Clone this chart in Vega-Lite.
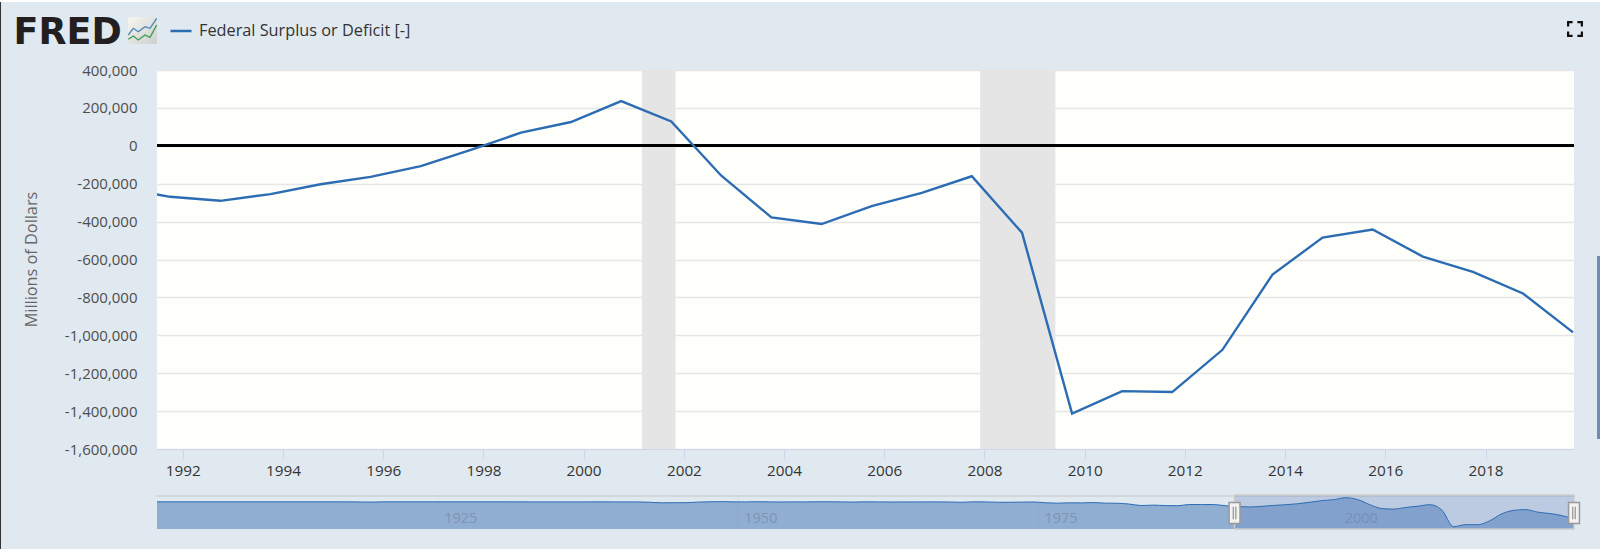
{"$schema":"https://vega.github.io/schema/vega-lite/v6.json","width":1417,"height":379,"autosize":{"type":"none"},"padding":{"left":157,"top":70,"right":26,"bottom":100},"background":"#e1e9f0","view":{"fill":"#fefefb","stroke":null},"config":{"font":"Open Sans"},"datasets":{"fyfsd":[{"date":"1901-10-01","value":63},{"date":"1902-10-01","value":77},{"date":"1903-10-01","value":45},{"date":"1904-10-01","value":-43},{"date":"1905-10-01","value":-23},{"date":"1906-10-01","value":25},{"date":"1907-10-01","value":87},{"date":"1908-10-01","value":-57},{"date":"1909-10-01","value":-89},{"date":"1910-10-01","value":-18},{"date":"1911-10-01","value":11},{"date":"1912-10-01","value":3},{"date":"1913-10-01","value":0},{"date":"1914-10-01","value":0},{"date":"1915-10-01","value":-63},{"date":"1916-10-01","value":48},{"date":"1917-10-01","value":-853},{"date":"1918-10-01","value":-9000},{"date":"1919-10-01","value":-13363},{"date":"1920-10-01","value":291},{"date":"1921-10-01","value":509},{"date":"1922-10-01","value":736},{"date":"1923-10-01","value":713},{"date":"1924-10-01","value":963},{"date":"1925-10-01","value":717},{"date":"1926-10-01","value":865},{"date":"1927-10-01","value":1155},{"date":"1928-10-01","value":939},{"date":"1929-10-01","value":734},{"date":"1930-10-01","value":738},{"date":"1931-10-01","value":-462},{"date":"1932-10-01","value":-2735},{"date":"1933-10-01","value":-2602},{"date":"1934-10-01","value":-3586},{"date":"1935-10-01","value":-2803},{"date":"1936-10-01","value":-4304},{"date":"1937-10-01","value":-2193},{"date":"1938-10-01","value":-89},{"date":"1939-10-01","value":-2846},{"date":"1940-10-01","value":-2920},{"date":"1941-10-01","value":-4941},{"date":"1942-10-01","value":-20503},{"date":"1943-10-01","value":-54554},{"date":"1944-10-01","value":-47557},{"date":"1945-10-01","value":-47553},{"date":"1946-10-01","value":-15936},{"date":"1947-10-01","value":4018},{"date":"1948-10-01","value":11796},{"date":"1949-10-01","value":580},{"date":"1950-10-01","value":-3119},{"date":"1951-10-01","value":6102},{"date":"1952-10-01","value":-1519},{"date":"1953-10-01","value":-6493},{"date":"1954-10-01","value":-1154},{"date":"1955-10-01","value":-2993},{"date":"1956-10-01","value":3947},{"date":"1957-10-01","value":3412},{"date":"1958-10-01","value":-2769},{"date":"1959-10-01","value":-12849},{"date":"1960-10-01","value":301},{"date":"1961-10-01","value":-3335},{"date":"1962-10-01","value":-7146},{"date":"1963-10-01","value":-4756},{"date":"1964-10-01","value":-5915},{"date":"1965-10-01","value":-1411},{"date":"1966-10-01","value":-3698},{"date":"1967-10-01","value":-8643},{"date":"1968-10-01","value":-25161},{"date":"1969-10-01","value":3242},{"date":"1970-10-01","value":-2842},{"date":"1971-10-01","value":-23033},{"date":"1972-10-01","value":-23373},{"date":"1973-10-01","value":-14908},{"date":"1974-10-01","value":-6135},{"date":"1975-10-01","value":-53242},{"date":"1976-10-01","value":-73732},{"date":"1977-10-01","value":-53659},{"date":"1978-10-01","value":-59185},{"date":"1979-10-01","value":-40726},{"date":"1980-10-01","value":-73830},{"date":"1981-10-01","value":-78968},{"date":"1982-10-01","value":-127977},{"date":"1983-10-01","value":-207802},{"date":"1984-10-01","value":-185367},{"date":"1985-10-01","value":-212308},{"date":"1986-10-01","value":-221227},{"date":"1987-10-01","value":-149730},{"date":"1988-10-01","value":-155178},{"date":"1989-10-01","value":-152639},{"date":"1990-10-01","value":-221036},{"date":"1991-10-01","value":-269238},{"date":"1992-10-01","value":-290321},{"date":"1993-10-01","value":-255051},{"date":"1994-10-01","value":-203186},{"date":"1995-10-01","value":-163952},{"date":"1996-10-01","value":-107431},{"date":"1997-10-01","value":-21884},{"date":"1998-10-01","value":69270},{"date":"1999-10-01","value":125610},{"date":"2000-10-01","value":236241},{"date":"2001-10-01","value":128236},{"date":"2002-10-01","value":-157758},{"date":"2003-10-01","value":-377585},{"date":"2004-10-01","value":-412727},{"date":"2005-10-01","value":-318346},{"date":"2006-10-01","value":-248181},{"date":"2007-10-01","value":-160701},{"date":"2008-10-01","value":-458553},{"date":"2009-10-01","value":-1412688},{"date":"2010-10-01","value":-1294373},{"date":"2011-10-01","value":-1299599},{"date":"2012-10-01","value":-1076573},{"date":"2013-10-01","value":-679544},{"date":"2014-10-01","value":-484602},{"date":"2015-10-01","value":-441960},{"date":"2016-10-01","value":-584651},{"date":"2017-10-01","value":-665446},{"date":"2018-10-01","value":-779137},{"date":"2019-10-01","value":-984388}]},"data":{"name":"fyfsd"},"resolve":{"scale":{"x":"independent","y":"independent","color":"independent"},"axis":{"x":"independent","y":"independent"}},"layer":[{"layer":[{"data":{"values":[{"start":"2001-03-01","end":"2001-11-01"},{"start":"2007-12-01","end":"2009-06-01"}]},"mark":{"type":"rect","fill":"#e5e5e5"},"encoding":{"x":{"field":"start","type":"temporal","scale":{"domain":["1991-06-27","2019-10-08"]},"axis":{"title":null,"format":"%Y","tickCount":{"interval":"year","step":2},"grid":false,"domainColor":"#ccd6eb","tickColor":"#ccd6eb","tickSize":10,"labelFontSize":15.3,"labelColor":"#333333","labelPadding":4,"labelFont":"Open Sans"}},"x2":{"field":"end"}}},{"mark":{"type":"rule","color":"#000000","strokeWidth":2.5},"encoding":{"y":{"datum":0,"type":"quantitative","scale":{"domain":[-1600000,400000],"nice":false},"axis":{"title":"Millions of Dollars","values":[-1600000,-1400000,-1200000,-1000000,-800000,-600000,-400000,-200000,0,200000,400000],"tickCount":11,"labelOverlap":false,"format":",.0f","labelExpr":"replace(datum.label,'−','-')","domain":false,"ticks":false,"grid":true,"gridColor":"#e6e6e6","gridWidth":1.5,"labelFontSize":15,"labelColor":"#4d4d4d","labelPadding":20,"labelFont":"Open Sans","titleFont":"Open Sans","titleFontSize":16.3,"titleFontWeight":"normal","titleColor":"#666666","titleX":-118,"titleY":189}}}},{"mark":{"type":"line","clip":true,"strokeWidth":2.4,"interpolate":"linear"},"encoding":{"x":{"field":"date","type":"temporal"},"y":{"field":"value","type":"quantitative"},"color":{"datum":"Federal Surplus or Deficit [-]","type":"nominal","scale":{"range":["#2b6cb3"]},"legend":{"title":null,"orient":"none","legendX":12,"legendY":-51,"symbolType":"stroke","symbolSize":441,"symbolStrokeWidth":2.5,"labelFontSize":16.3,"labelColor":"#333333","labelFont":"Open Sans","labelOffset":6,"labelLimit":400}}}}]},{"layer":[{"data":{"values":[{"start":"1901-10-01","end":"2019-10-08","low":276000,"high":390000}]},"mark":{"type":"rect","fill":"#d3d7d9"},"encoding":{"x":{"field":"start","type":"temporal","axis":null,"scale":{"domain":["1901-10-01","2019-10-08"]}},"x2":{"field":"end"},"y":{"field":"low","type":"quantitative","axis":null,"scale":{"domain":[-1543000,236241],"range":[459,427.7],"nice":false,"zero":false}},"y2":{"field":"high"}}},{"mark":{"type":"area","fill":"#1f5ca8","opacity":0.42,"interpolate":"monotone"},"encoding":{"x":{"field":"date","type":"temporal"},"y":{"field":"value","type":"quantitative","stack":null},"y2":{"datum":-1543000}}},{"data":{"values":[{"date":"1925-03-01"},{"date":"1950-03-01"},{"date":"1975-03-01"},{"date":"2000-03-01"}]},"mark":{"type":"rule","stroke":"#8a9cb5","strokeWidth":1,"opacity":0.12},"encoding":{"x":{"field":"date","type":"temporal"},"y":{"datum":-1543000},"y2":{"datum":390000}}},{"data":{"values":[{"date":"1925-03-01","label":"1925","level":-974000},{"date":"1950-03-01","label":"1950","level":-974000},{"date":"1975-03-01","label":"1975","level":-974000},{"date":"2000-03-01","label":"2000","level":-974000}]},"mark":{"type":"text","align":"left","dx":6,"fontSize":14.5,"color":"#7f93b3","font":"Open Sans"},"encoding":{"x":{"field":"date","type":"temporal"},"y":{"field":"level","type":"quantitative"},"text":{"field":"label"}}},{"data":{"values":[{"start":"1991-07-01","end":"2019-10-08","low":-1543000,"high":390000}]},"mark":{"type":"rect","fill":"#6685c2","fillOpacity":0.3,"stroke":"#cccccc","strokeWidth":1.5},"encoding":{"x":{"field":"start","type":"temporal"},"x2":{"field":"end"},"y":{"field":"low","type":"quantitative"},"y2":{"field":"high"}}},{"mark":{"type":"line","stroke":"#2b6cb3","strokeWidth":1,"interpolate":"monotone"},"encoding":{"x":{"field":"date","type":"temporal"},"y":{"field":"value","type":"quantitative"}}},{"data":{"values":[{"date":"1991-07-01","level":-633000},{"date":"2019-10-08","level":-633000}]},"mark":{"type":"point","shape":"M-0.52,-1H0.52V1H-0.52Z","size":441,"filled":true,"fill":"#f2f2f2","stroke":"#999999","strokeWidth":1.5,"opacity":1},"encoding":{"x":{"field":"date","type":"temporal"},"y":{"field":"level","type":"quantitative"}}},{"data":{"values":[{"date":"1991-07-01","level":-633000},{"date":"2019-10-08","level":-633000}]},"mark":{"type":"point","shape":"M-0.12,-0.6V0.6M0.12,-0.6V0.6","size":441,"filled":false,"stroke":"#999999","strokeWidth":1.3,"opacity":1},"encoding":{"x":{"field":"date","type":"temporal"},"y":{"field":"level","type":"quantitative"}}}]},{"layer":[{"data":{"values":[{"x0":0,"x1":29,"y0":0,"y1":27}]},"mark":{"type":"rect","cornerRadius":2,"fill":{"gradient":"linear","x1":0,"y1":0,"x2":1,"y2":1,"stops":[{"offset":0,"color":"#f6f6f2"},{"offset":1,"color":"#cdd0cd"}]}},"encoding":{"x":{"field":"x0","type":"quantitative","axis":null,"scale":{"domain":[0,29],"range":[-29,0],"nice":false}},"x2":{"field":"x1"},"y":{"field":"y0","type":"quantitative","axis":null,"scale":{"domain":[0,27],"range":[-26,-53],"nice":false}},"y2":{"field":"y1"}}},{"data":{"values":[{"x":0.3,"y":9,"s":"blue"},{"x":5.3,"y":15.7,"s":"blue"},{"x":10.3,"y":12.3,"s":"blue"},{"x":17,"y":17.3,"s":"blue"},{"x":22,"y":15.7,"s":"blue"},{"x":28.7,"y":25.7,"s":"blue"},{"x":0.3,"y":4.7,"s":"green"},{"x":5.3,"y":8,"s":"green"},{"x":10.3,"y":4,"s":"green"},{"x":17,"y":9,"s":"green"},{"x":22,"y":6.7,"s":"green"},{"x":28.7,"y":19,"s":"green"}]},"mark":{"type":"line","strokeWidth":1.3},"encoding":{"x":{"field":"x","type":"quantitative"},"y":{"field":"y","type":"quantitative"},"color":{"field":"s","type":"nominal","legend":null,"scale":{"domain":["blue","green"],"range":["#4a86b8","#3f9a4e"]}}}},{"data":{"values":[{"x":-114.5,"y":0,"label":"FRED"}]},"mark":{"type":"text","align":"left","baseline":"alphabetic","font":"DejaVu Sans","fontSize":36.5,"fontWeight":"bold","color":"#231f20"},"encoding":{"x":{"field":"x","type":"quantitative"},"y":{"field":"y","type":"quantitative"},"text":{"field":"label"}}}]},{"data":{"values":[{"x":0.5,"y":0.5}]},"mark":{"type":"point","shape":"M-1,-1H-0.3V-0.72H-0.72V-0.3H-1ZM1,-1V-0.3H0.72V-0.72H0.3V-1ZM-1,1V0.3H-0.72V0.72H-0.3V1ZM1,1H0.3V0.72H0.72V0.3H1Z","size":256,"filled":true,"fill":"#111111","strokeWidth":0,"opacity":1},"encoding":{"x":{"field":"x","type":"quantitative","axis":null,"scale":{"domain":[0,1],"range":[1410,1426],"nice":false}},"y":{"field":"y","type":"quantitative","axis":null,"scale":{"domain":[0,1],"range":[-33,-49],"nice":false}}}},{"data":{"values":[{"x0":0,"x1":1,"y0":0,"y1":1}]},"mark":{"type":"rect","fill":"#6f8cb5"},"encoding":{"x":{"field":"x0","type":"quantitative","axis":null,"scale":{"domain":[0,1],"range":[1440,1443],"nice":false}},"x2":{"field":"x1"},"y":{"field":"y0","type":"quantitative","axis":null,"scale":{"domain":[0,1],"range":[369,186],"nice":false}},"y2":{"field":"y1"}}},{"data":{"values":[{"x0":0,"x1":1,"y0":0,"y1":1}]},"mark":{"type":"rect","fill":"#ffffff"},"encoding":{"x":{"field":"x0","type":"quantitative","axis":null,"scale":{"domain":[0,1],"range":[-157,1443],"nice":false}},"x2":{"field":"x1"},"y":{"field":"y0","type":"quantitative","axis":null,"scale":{"domain":[0,1],"range":[-68,-70],"nice":false}},"y2":{"field":"y1"}}},{"data":{"values":[{"x0":0,"x1":1,"y0":0,"y1":1}]},"mark":{"type":"rect","fill":"#333333"},"encoding":{"x":{"field":"x0","type":"quantitative","axis":null,"scale":{"domain":[0,1],"range":[-157,-156],"nice":false}},"x2":{"field":"x1"},"y":{"field":"y0","type":"quantitative","axis":null,"scale":{"domain":[0,1],"range":[479,-68],"nice":false}},"y2":{"field":"y1"}}}]}
